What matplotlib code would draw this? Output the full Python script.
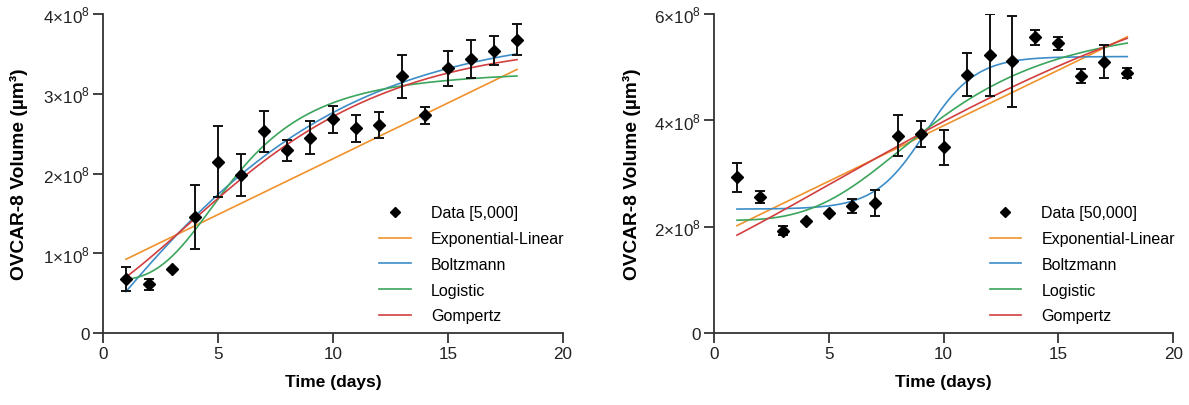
import numpy as np
import matplotlib
matplotlib.use("Agg")
import matplotlib.pyplot as plt
from matplotlib.lines import Line2D
from matplotlib.ticker import FuncFormatter, MultipleLocator

plt.rcParams['font.family'] = ['Liberation Sans', 'DejaVu Sans']
plt.rcParams['mathtext.fontset'] = 'custom'
plt.rcParams['mathtext.rm'] = 'Liberation Sans'
plt.rcParams['mathtext.bf'] = 'Liberation Sans:bold'

# ──────────────────────────────────────────
# DATA  (volumes in units of 1e8 µm³)
# ──────────────────────────────────────────
days = [1, 2, 3, 4, 5, 6, 7, 8, 9, 10, 11, 12, 13, 14, 15, 16, 17, 18]

vol_5k = [0.675, 0.61, 0.80, 1.45, 2.15, 1.98, 2.53, 2.29, 2.45,
          2.68, 2.57, 2.61, 3.22, 2.73, 3.32, 3.44, 3.54, 3.68]
err_5k = [0.15, 0.07, 0.0, 0.40, 0.45, 0.26, 0.26, 0.13, 0.21,
          0.17, 0.17, 0.16, 0.27, 0.11, 0.22, 0.24, 0.18, 0.20]

vol_50k = [2.93, 2.56, 1.925, 2.10, 2.25, 2.39, 2.445, 3.71, 3.74,
           3.49, 4.86, 5.23, 5.11, 5.56, 5.45, 4.83, 5.10, 4.89]
err_50k = [0.27, 0.12, 0.09, 0.0, 0.0, 0.125, 0.25, 0.385, 0.25,
           0.33, 0.41, 0.77, 0.85, 0.14, 0.12, 0.13, 0.31, 0.09]

# fitted model parameters
explin_5k = (0.785, 0.14)             # intercept, slope (linear phase)
boltz_5k = (-4.89, 3.80, -2.0, 6.0)   # A1, A2, x0, dx
logis_5k = (0.66, 3.30, 5.81, 3.1)    # bottom, top, t50, hill slope
gomp_5k = (3.66, 2.0, 0.19)           # A, b, c

explin_50k = (1.81, 0.209)
boltz_50k = (2.33, 5.20, 9.2, 1.1)
logis_50k = (2.12, 5.90, 9.79, 3.3)
gomp_50k = (7.79, 1.571, 0.085)

SCALE = 1e8
COLORS = {'Exponential-Linear': '#F0922B', 'Boltzmann': '#3C8DC8',
          'Logistic': '#3BA55C', 'Gompertz': '#D23F3F'}


def explin(t, p):
    return p[0] + p[1] * t

def boltzmann(t, p):
    a1, a2, x0, dx = p
    return a2 + (a1 - a2) / (1 + np.exp((t - x0) / dx))

def logistic(t, p):
    lo, hi, t50, n = p
    return lo + (hi - lo) / (1 + (t50 / t) ** n)

def gompertz(t, p):
    a, b, c = p
    return a * np.exp(-b * np.exp(-c * t))


def panel(ax, vol, err, fits, label, ymax, ystep):
    t = np.linspace(1, 18, 300)
    handles = [Line2D([], [], ls='none', marker='D', ms=5.5, color='black', label=label)]
    for name, func, p in fits:
        ln, = ax.plot(t, func(t, p) * SCALE, color=COLORS[name], lw=1.2, label=name)
        handles.append(ln)
    y = np.array(vol) * SCALE
    e = np.array(err) * SCALE
    ax.errorbar(days, y, yerr=e, fmt='none', ecolor='#111111', elinewidth=1.4,
                capsize=3.5, capthick=1.4, zorder=4)
    ax.plot(days, y, ls='none', marker='D', ms=6.3, color='black', zorder=5)

    ax.set_xlim(0, 20)
    ax.set_ylim(0, ymax * SCALE)
    ax.xaxis.set_major_locator(MultipleLocator(5))
    ax.yaxis.set_major_locator(MultipleLocator(ystep * SCALE))
    ax.yaxis.set_major_formatter(FuncFormatter(
        lambda v, pos: '0' if v == 0 else r'$%d{\times}10^{8}$' % round(v / SCALE)))
    for side in ('top', 'right'):
        ax.spines[side].set_visible(False)
    for side in ('left', 'bottom'):
        ax.spines[side].set_linewidth(1.3)
        ax.spines[side].set_color('#333333')
    ax.tick_params(length=7.5, width=1.3, color='#333333', labelsize=12.3,
                   labelcolor='#222222', pad=2)
    ax.set_xlabel('Time (days)', fontsize=12.5, fontweight='bold', labelpad=9)
    ax.set_ylabel('OVCAR-8 Volume (µm³)', fontsize=13.8, fontweight='bold')
    ax.legend(handles=handles, loc='upper left', bbox_to_anchor=(0.60, 0.40),
              frameon=False, fontsize=11.5, borderpad=0, borderaxespad=0,
              handlelength=2.0, handletextpad=1.25, labelspacing=0.67)


fig = plt.figure(figsize=(11.89, 4.06), dpi=100)
ax1 = fig.add_axes([0.0866, 0.1773, 0.3869, 0.7857])
ax2 = fig.add_axes([0.6005, 0.1773, 0.3862, 0.7857])

panel(ax1, vol_5k, err_5k,
      [('Exponential-Linear', explin, explin_5k), ('Boltzmann', boltzmann, boltz_5k),
       ('Logistic', logistic, logis_5k), ('Gompertz', gompertz, gomp_5k)],
      'Data [5,000]', 4, 1)
panel(ax2, vol_50k, err_50k,
      [('Exponential-Linear', explin, explin_50k), ('Boltzmann', boltzmann, boltz_50k),
       ('Logistic', logistic, logis_50k), ('Gompertz', gompertz, gomp_50k)],
      'Data [50,000]', 6, 2)

ax1.yaxis.set_label_coords(-0.163, 0.5)
ax2.yaxis.set_label_coords(-0.16, 0.5)

fig.savefig('out.png', dpi=100)
